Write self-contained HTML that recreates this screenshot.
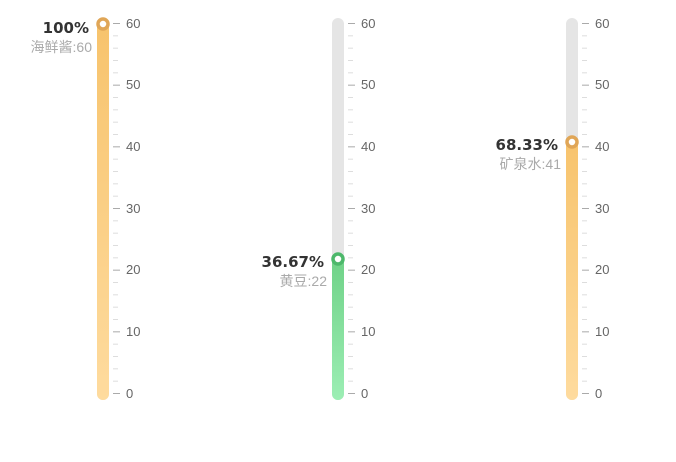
<!DOCTYPE html>
<html><head><meta charset="utf-8"><style>
html,body{margin:0;padding:0;background:#fff;}
svg{display:block;}
.t{font-family:"Liberation Sans","Noto Sans CJK SC",sans-serif;font-size:13px;fill:#666;}
.p{font-family:"DejaVu Sans","Liberation Sans",sans-serif;font-weight:bold;font-size:15px;fill:#333;}
.n{font-family:"Liberation Sans","Noto Sans CJK SC",sans-serif;font-size:14px;fill:#aaa;}
</style></head><body>
<svg id="s" width="676" height="462" viewBox="0 0 676 462">
<defs>
<linearGradient id="go" x1="0" y1="0" x2="0" y2="1"><stop offset="0" stop-color="#f7c36c"/><stop offset="1" stop-color="#fedb9e"/></linearGradient>
<linearGradient id="gg" x1="0" y1="0" x2="0" y2="1"><stop offset="0" stop-color="#6ed186"/><stop offset="1" stop-color="#9ceeb4"/></linearGradient>
</defs>
<rect x="97" y="18" width="12" height="382" rx="6" fill="#e5e5e5"/>
<rect x="97" y="18" width="12" height="382" rx="6" fill="url(#go)"/>
<circle cx="103" cy="24" r="5" fill="#fff" stroke="#e0a657" stroke-width="3.5"/>
<text class="p" x="89" y="33" text-anchor="end">100%</text>
<text class="n" x="92" y="52" text-anchor="end">海鲜酱:60</text>
<rect x="332" y="18" width="12" height="382" rx="6" fill="#e5e5e5"/>
<rect x="332" y="253" width="12" height="147" rx="6" fill="url(#gg)"/>
<circle cx="338" cy="259" r="5" fill="#fff" stroke="#4db86b" stroke-width="3.5"/>
<text class="p" x="324" y="267" text-anchor="end">36.67%</text>
<text class="n" x="327" y="286" text-anchor="end">黄豆:22</text>
<rect x="566" y="18" width="12" height="382" rx="6" fill="#e5e5e5"/>
<rect x="566" y="136" width="12" height="264" rx="6" fill="url(#go)"/>
<circle cx="572" cy="142" r="5" fill="#fff" stroke="#e0a657" stroke-width="3.5"/>
<text class="p" x="558" y="150" text-anchor="end">68.33%</text>
<text class="n" x="561" y="169" text-anchor="end">矿泉水:41</text>
<g id="ticks" stroke="#ccc" stroke-width="1"></g>
<g class="t">
<text x="126" y="28">60</text><text x="126" y="89">50</text><text x="126" y="151">40</text><text x="126" y="213">30</text><text x="126" y="274">20</text><text x="126" y="336">10</text><text x="126" y="398">0</text>
<text x="361" y="28">60</text><text x="361" y="89">50</text><text x="361" y="151">40</text><text x="361" y="213">30</text><text x="361" y="274">20</text><text x="361" y="336">10</text><text x="361" y="398">0</text>
<text x="595" y="28">60</text><text x="595" y="89">50</text><text x="595" y="151">40</text><text x="595" y="213">30</text><text x="595" y="274">20</text><text x="595" y="336">10</text><text x="595" y="398">0</text>
</g>
</svg>
<script>
var g=document.getElementById('ticks'),xs=[113,348,582],h='';
xs.forEach(function(x){for(var i=0;i<=30;i++){var y=(393-i*370/30)+0.5;var maj=i%5==0;
h+='<line x1="'+x+'" x2="'+(x+(maj?7:5))+'" y1="'+y+'" y2="'+y+'" stroke="'+(maj?'#aaa':'#ddd')+'"/>';}});
g.innerHTML=h;
</script>
</body></html>
